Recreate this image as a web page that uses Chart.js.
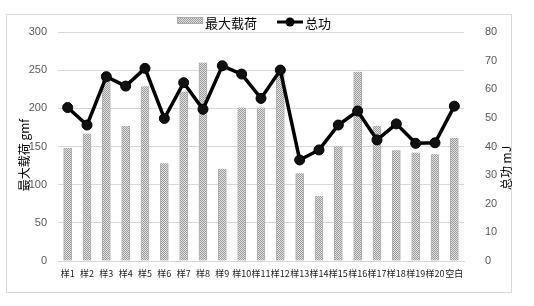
<!DOCTYPE html>
<html><head><meta charset="utf-8">
<script src="https://cdn.jsdelivr.net/npm/chart.js@4"></script>
<style>html,body{margin:0;padding:0;background:#fff}#c{display:block}</style>
</head><body>
<canvas id="c" width="534" height="306"></canvas>
<script>
const categories = ['样1','样2','样3','样4','样5','样6','样7','样8','样9','样10','样11','样12','样13','样14','样15','样16','样17','样18','样19','样20','空白'];
const maxLoad = [148,167,240,177,229,128,222,260,121,201,201,248,115,85,151,248,177,145,142,140,161];
const totalWork = [53.6,47.5,64.4,61.1,67.3,49.8,62.3,53.0,68.2,65.3,56.8,66.7,35.3,38.8,47.5,52.4,42.3,47.9,41.1,41.3,54.1];
const leftTicks = [0,50,100,150,200,250,300];
const rightTicks = [0,10,20,30,40,50,60,70,80];
const seriesNames = ['最大载荷','总功'];
const axisTitles = ['最大载荷 gmf','总功 mJ'];

const FONT = '"Noto Sans CJK SC","Liberation Sans",sans-serif';
const ctx = document.getElementById('c').getContext('2d');

function makePattern(){
  const p = document.createElement('canvas'); p.width = 2; p.height = 2;
  const g = p.getContext('2d');
  g.fillStyle = '#e2e2e2'; g.fillRect(0,0,2,2);
  g.fillStyle = '#9a9a9a'; g.fillRect(0,0,1,1); g.fillRect(1,1,1,1);
  return ctx.createPattern(p,'repeat');
}
const pattern = makePattern();

const decor = {
  id:'decor',
  beforeDraw(chart){
    const c = chart.ctx;
    c.save();
    c.fillStyle='#fff'; c.fillRect(0,0,chart.width,chart.height);
    c.strokeStyle='#d9d9d9'; c.lineWidth=1;
    c.strokeRect(6.5,14.5,505,278);
    c.restore();
  },
  afterDraw(chart){
    const c = chart.ctx;
    c.save();
    c.fillStyle='#000'; c.font='12px '+FONT; c.textAlign='center'; c.textBaseline='middle';
    c.translate(24,155); c.rotate(-Math.PI/2); c.fillText(axisTitles[0],0,0);
    c.setTransform(1,0,0,1,0,0);
    c.translate(506,168); c.rotate(-Math.PI/2); c.fillText(axisTitles[1],0,0);
    c.setTransform(1,0,0,1,0,0);
    c.fillStyle=pattern; c.fillRect(177,17,26,7);
    c.strokeStyle='#aaa'; c.lineWidth=1; c.strokeRect(177.5,17.5,25,6);
    c.fillStyle='#000'; c.font='13px '+FONT; c.textAlign='left'; c.textBaseline='middle';
    c.fillText(seriesNames[0],205,23);
    c.strokeStyle='#000'; c.lineWidth=3; c.beginPath(); c.moveTo(277,22); c.lineTo(303,22); c.stroke();
    c.beginPath(); c.arc(290,22,4.5,0,Math.PI*2); c.fill();
    c.fillText(seriesNames[1],305,23);
    c.restore();
  }
};

new Chart(ctx,{
  data:{
    labels:categories,
    datasets:[
      {type:'line',label:seriesNames[1],data:totalWork,yAxisID:'y1',borderColor:'#000',borderWidth:3.5,
       pointRadius:5,pointBackgroundColor:'#111',pointBorderColor:'#000',pointBorderWidth:1,tension:0,order:0},
      {type:'bar',label:seriesNames[0],data:maxLoad,yAxisID:'y',backgroundColor:pattern,
       borderColor:'#b0b0b0',borderWidth:{left:1,right:1,top:0,bottom:0},barThickness:8,order:1}
    ]
  },
  options:{
    responsive:false,animation:false,
    layout:{padding:{top:32,left:0,right:0,bottom:0}},
    plugins:{legend:{display:false},tooltip:{enabled:false}},
    scales:{
      x:{grid:{display:false,drawTicks:false},border:{color:'#d9d9d9'},
         ticks:{color:'#222',font:{size:9,family:FONT},padding:7,maxRotation:0,autoSkip:false},
         afterFit(s){s.height=45;}},
      y:{position:'left',min:0,max:300,
         afterBuildTicks(s){s.ticks=leftTicks.map(v=>({value:v}));},
         grid:{color:'#d9d9d9',drawTicks:false},border:{display:false},
         ticks:{color:'#595959',font:{size:11,family:'"Liberation Sans",sans-serif'},padding:11},
         afterFit(s){s.width=58;}},
      y1:{position:'right',min:0,max:80,
         afterBuildTicks(s){s.ticks=rightTicks.map(v=>({value:v}));},
         grid:{display:false,drawTicks:false},border:{display:false},
         ticks:{color:'#595959',font:{size:11,family:'"Liberation Sans",sans-serif'},padding:21},
         afterFit(s){s.width=70;}}
    }
  },
  plugins:[decor]
});
</script>
</body></html>
